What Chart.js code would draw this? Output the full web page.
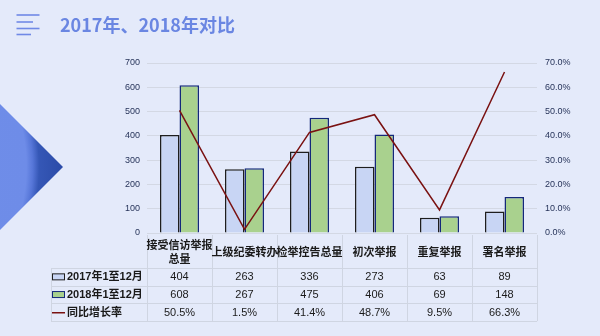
<!DOCTYPE html>
<html>
<head>
<meta charset="utf-8">
<script src="https://cdn.jsdelivr.net/npm/chart.js@4/dist/chart.umd.min.js"></script>
<style>
  html, body { margin: 0; padding: 0; background: #e4eafa; }
  #wrap { position: relative; width: 600px; height: 336px; overflow: hidden; }
  #title {
    position: absolute; left: 60px; top: 11px; line-height: 22px;
    font: bold 18px "Noto Sans CJK SC", "Noto Sans", sans-serif; color: #6a86e2;
    white-space: nowrap;
  }
  canvas { position: absolute; left: 0; top: 0; }
</style>
</head>
<body>
<div id="wrap">
  <canvas id="c" width="600" height="336"></canvas>
  <div id="title">2017年、2018年对比</div>
</div>
<script>
// Categories and series
const categories = ['接受信访举报总量', '上级纪委转办', '检举控告总量', '初次举报', '重复举报', '署名举报'];
const seriesNames = ['2017年1至12月', '2018年1至12月', '同比增长率'];
const values2017 = [404, 263, 336, 273, 63, 89];
const values2018 = [608, 267, 475, 406, 69, 148];
const growthRate = [50.5, 1.5, 41.4, 48.7, 9.5, 66.3];
const countTicks = [0, 100, 200, 300, 400, 500, 600, 700];
const rateTicks = [0, 10, 20, 30, 40, 50, 60, 70];

const COLORS = {
  fill2017: '#c8d5f4', border2017: '#1e1e1e',
  fill2018: '#a9d18e', border2018: '#14287a',
  rate: '#7a1212',
  grid: '#d3d8e4', tick: '#27345a', text: '#1a1a1a', table: '#cfd5e2'
};

// Page decorations: menu icon and the arrow on the left edge
const decorPlugin = {
  id: 'decor',
  beforeDraw(chart) {
    const ctx = chart.ctx;
    ctx.save();
    ctx.strokeStyle = '#7089e6';
    ctx.lineWidth = 1.6;
    [[15, 39.5], [22, 33], [28.5, 39.5], [34.5, 31]].forEach(([y, x2]) => {
      ctx.beginPath(); ctx.moveTo(16.5, y); ctx.lineTo(x2, y); ctx.stroke();
    });
    const g = ctx.createRadialGradient(-150, 167, 0, -150, 167, 215);
    g.addColorStop(0, '#7090ea');
    g.addColorStop(0.82, '#6e8ce8');
    g.addColorStop(0.85, '#5676d8');
    g.addColorStop(0.88, '#3557b6');
    g.addColorStop(1, '#2a4aa6');
    ctx.fillStyle = g;
    ctx.beginPath();
    ctx.moveTo(0, 104); ctx.lineTo(63, 167); ctx.lineTo(0, 230); ctx.closePath();
    ctx.fill();
    ctx.restore();
  }
};

// Break a category name into lines that fit one table column
function wrapText(ctx, text, maxW) {
  if (ctx.measureText(text).width <= maxW + 4) return [text];
  const lines = []; let cur = '';
  for (const ch of text) {
    if (ctx.measureText(cur + ch).width > maxW + 2 && cur) { lines.push(cur); cur = ch; }
    else cur += ch;
  }
  if (cur) lines.push(cur);
  return lines;
}

// Data table under the plot, columns aligned to the category scale
const tablePlugin = {
  id: 'dataTable',
  afterDraw(chart) {
    const ctx = chart.ctx;
    const xs = chart.scales.x;
    const area = chart.chartArea;
    const n = chart.data.labels.length;
    const colW = (area.right - area.left) / n;
    const headTop = area.bottom + 2;
    const headBottom = area.bottom + 35;
    const rowH = 17.7;
    const tableBottom = headBottom + rowH * 3;
    const legendLeft = 51;

    ctx.save();
    ctx.strokeStyle = COLORS.table;
    ctx.lineWidth = 1;
    for (let r = 0; r <= 3; r++) {
      const y = Math.round(headBottom + r * rowH) + 0.5;
      ctx.beginPath(); ctx.moveTo(legendLeft, y); ctx.lineTo(area.right, y); ctx.stroke();
    }
    ctx.beginPath(); ctx.moveTo(legendLeft + 0.5, headBottom); ctx.lineTo(legendLeft + 0.5, tableBottom); ctx.stroke();
    for (let i = 0; i <= n; i++) {
      const x = Math.round(area.left + i * colW) + 0.5;
      ctx.beginPath(); ctx.moveTo(x, headTop); ctx.lineTo(x, tableBottom); ctx.stroke();
    }

    // category headers
    ctx.fillStyle = COLORS.text;
    ctx.textAlign = 'center';
    ctx.textBaseline = 'middle';
    ctx.font = 'bold 11px "Noto Sans CJK SC", sans-serif';
    chart.data.labels.forEach((lab, i) => {
      const cx = xs.getPixelForValue(i);
      const lines = wrapText(ctx, lab, colW);
      const lh = 13.5;
      const mid = (headTop + headBottom) / 2 + 0.5;
      lines.forEach((ln, k) => {
        ctx.fillText(ln, cx, mid + (k - (lines.length - 1) / 2) * lh);
      });
    });

    // data rows
    ctx.font = '11px "Liberation Sans", "Noto Sans CJK SC", sans-serif';
    chart.data.datasets.forEach((ds, r) => {
      const cy = headBottom + (r + 0.5) * rowH + 0.5;
      ds.data.forEach((v, i) => {
        const txt = ds.yAxisID === 'y1' ? v.toFixed(1) + '%' : String(v);
        ctx.fillText(txt, xs.getPixelForValue(i), cy);
      });
    });

    // series keys and names
    ctx.textAlign = 'left';
    ctx.font = 'bold 11px "Liberation Sans", "Noto Sans CJK SC", sans-serif';
    chart.data.datasets.forEach((ds, r) => {
      const cy = headBottom + (r + 0.5) * rowH;
      if (ds.type === 'line') {
        ctx.strokeStyle = ds.borderColor; ctx.lineWidth = 1.5;
        ctx.beginPath(); ctx.moveTo(52, cy + 0.5); ctx.lineTo(65, cy + 0.5); ctx.stroke();
      } else {
        ctx.fillStyle = ds.backgroundColor;
        ctx.fillRect(52.5, cy - 3, 12, 6);
        ctx.strokeStyle = ds.borderColor; ctx.lineWidth = 1;
        ctx.strokeRect(52.5, cy - 3, 12, 6);
      }
      ctx.fillStyle = COLORS.text;
      ctx.fillText(ds.label, 67, cy + 0.5);
    });
    ctx.restore();
  }
};

new Chart(document.getElementById('c'), {
  data: {
    labels: categories,
    datasets: [
      {
        type: 'bar', label: seriesNames[0], data: values2017, yAxisID: 'y',
        backgroundColor: COLORS.fill2017, borderColor: COLORS.border2017, borderWidth: 1.5,
        categoryPercentage: 0.6, barPercentage: 1.0, order: 1
      },
      {
        type: 'bar', label: seriesNames[1], data: values2018, yAxisID: 'y',
        backgroundColor: COLORS.fill2018, borderColor: COLORS.border2018, borderWidth: 1.5,
        categoryPercentage: 0.6, barPercentage: 1.0, order: 1
      },
      {
        type: 'line', label: seriesNames[2], data: growthRate, yAxisID: 'y1',
        borderColor: COLORS.rate, backgroundColor: COLORS.rate, borderWidth: 1.5,
        pointRadius: 0, tension: 0, fill: false, order: 0
      }
    ]
  },
  options: {
    responsive: false,
    devicePixelRatio: 1,
    animation: false,
    layout: { padding: { left: 100, right: 3, top: 63, bottom: 103 } },
    plugins: { legend: { display: false }, tooltip: { enabled: false } },
    scales: {
      x: { display: false, offset: true },
      y: {
        position: 'left', min: 0, max: countTicks[countTicks.length - 1],
        afterBuildTicks: s => { s.ticks = countTicks.map(v => ({ value: v })); },
        afterFit: s => { s.width = 47; },
        grid: { color: COLORS.grid, drawTicks: false },
        border: { display: false },
        ticks: { padding: 7, color: COLORS.tick, font: { family: 'Liberation Sans', size: 9 } }
      },
      y1: {
        position: 'right', min: 0, max: rateTicks[rateTicks.length - 1],
        afterBuildTicks: s => { s.ticks = rateTicks.map(v => ({ value: v })); },
        afterFit: s => { s.width = 60; },
        grid: { display: false, drawTicks: false },
        border: { display: false },
        ticks: {
          padding: 8, color: COLORS.tick, font: { family: 'Liberation Sans', size: 9 },
          callback: v => Number(v).toFixed(1) + '%'
        }
      }
    }
  },
  plugins: [decorPlugin, tablePlugin]
});
</script>
</body>
</html>
